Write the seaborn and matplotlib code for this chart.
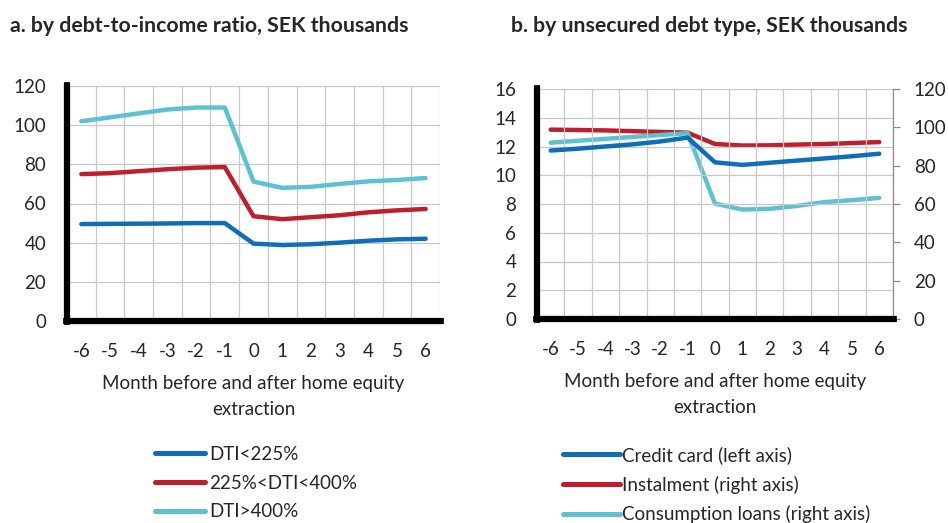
import numpy as np
import pandas as pd
import matplotlib
matplotlib.use("Agg")
import matplotlib.pyplot as plt
from matplotlib.ticker import FixedLocator, MultipleLocator
from matplotlib.lines import Line2D
import seaborn as sns

months = [-6, -5, -4, -3, -2, -1, 0, 1, 2, 3, 4, 5, 6]

# Panel a: by debt-to-income ratio
dti_low = [49.5, 49.6, 49.7, 49.8, 50.0, 50.0, 39.5, 38.8, 39.2, 40.0, 41.0, 41.7, 42.0]
dti_mid = [75.0, 75.5, 76.5, 77.5, 78.3, 78.6, 53.5, 52.0, 53.0, 54.0, 55.5, 56.5, 57.2]
dti_high = [102.0, 104.0, 106.0, 108.0, 109.0, 109.0, 71.2, 68.0, 68.5, 70.0, 71.3, 72.0, 73.0]
labels_a = ["DTI<225%", "225%<DTI<400%", "DTI>400%"]

# Panel b: by unsecured debt type
credit_card = [11.72, 11.85, 12.0, 12.15, 12.35, 12.62, 10.9, 10.72, 10.87, 11.02, 11.17, 11.32, 11.5]
instalment = [98.8, 98.6, 98.4, 98.0, 97.6, 97.2, 91.3, 90.5, 90.6, 91.0, 91.3, 91.8, 92.3]
consumption = [92.0, 93.0, 94.0, 95.0, 96.0, 96.9, 60.2, 57.1, 57.5, 59.0, 61.0, 62.0, 63.2]
labels_b = ["Credit card (left axis)", "Instalment (right axis)", "Consumption loans (right axis)"]

BLUE = "#0F6EB8"
RED = "#BE1E2D"
CYAN = "#5CC2D2"

sns.set_style("white")
plt.rcParams["font.family"] = ["Lato", "DejaVu Sans"]

FS = 13.5
FT = 15.3
fig = plt.figure(figsize=(9.48, 5.23), dpi=100)

W, H = 948, 523
def rect(l, t, r, b):
    return [l / W, 1 - b / H, (r - l) / W, (b - t) / H]

ax1 = fig.add_axes(rect(67, 86, 440, 321))
ax2 = fig.add_axes(rect(537, 89, 893, 319))

pos = np.arange(len(months))

def style_axis(ax, ymax, ystep):
    ax.set_xlim(-0.5, len(months) - 0.5)
    ax.set_ylim(0, ymax)
    ax.xaxis.set_major_locator(FixedLocator(pos))
    ax.set_xticklabels([str(m) for m in months])
    ax.xaxis.set_minor_locator(FixedLocator(np.arange(-0.5, len(months), 1.0)))
    ax.yaxis.set_major_locator(MultipleLocator(ystep))
    ax.grid(False)
    ax.grid(True, which="minor", axis="x", color="#C8C8C8", lw=0.9)
    ax.grid(True, which="major", axis="y", color="#C8C8C8", lw=0.9)
    ax.set_axisbelow(True)
    for s in ["top", "right"]:
        ax.spines[s].set_visible(False)
    for s in ["left", "bottom"]:
        ax.spines[s].set_color("black")
        ax.spines[s].set_linewidth(4.5)
        ax.spines[s].set_capstyle("projecting")
    ax.tick_params(axis="x", which="major", length=0, pad=16, labelsize=FS)
    ax.tick_params(axis="x", which="minor", length=4, width=5.5, direction="inout", color="black", bottom=True)
    ax.tick_params(axis="y", which="major", length=4, width=5.5, direction="inout", color="black",
                   pad=13, labelsize=FS, left=True)
    ax.set_xlabel("Month before and after home equity\nextraction", fontsize=FS, labelpad=11, linespacing=1.6)
    ax.set_ylabel("")

# Panel a
df_a = pd.DataFrame({
    "x": np.tile(pos, 3),
    "value": dti_low + dti_mid + dti_high,
    "series": np.repeat(labels_a, len(months)),
})
sns.lineplot(data=df_a, x="x", y="value", hue="series", hue_order=labels_a,
             palette=[BLUE, RED, CYAN], lw=3.2, ax=ax1, legend=False)
style_axis(ax1, 120, 20)

# Panel b
df_cc = pd.DataFrame({"x": pos, "value": credit_card})
sns.lineplot(data=df_cc, x="x", y="value", color=BLUE, lw=3.2, ax=ax2, legend=False)
style_axis(ax2, 16, 2)
ax2r = ax2.twinx()
df_b = pd.DataFrame({
    "x": np.tile(pos, 2),
    "value": instalment + consumption,
    "series": np.repeat(labels_b[1:], len(months)),
})
sns.lineplot(data=df_b, x="x", y="value", hue="series", hue_order=labels_b[1:],
             palette=[RED, CYAN], lw=3.2, ax=ax2r, legend=False)
ax2r.set_ylim(0, 120)
ax2r.yaxis.set_major_locator(MultipleLocator(20))
ax2r.grid(False)
ax2r.set_ylabel("")
for s in ["top", "left", "bottom"]:
    ax2r.spines[s].set_visible(False)
ax2r.spines["right"].set_color("#8C8C8C")
ax2r.spines["right"].set_linewidth(0.9)
ax2r.tick_params(axis="y", length=5, width=0.9, color="#8C8C8C", direction="out", pad=10, labelsize=FS)
ax2.set_zorder(ax2r.get_zorder() + 1)
ax2.patch.set_visible(False)

# Titles
fig.text(10 / W, 1 - 26 / H, "a. by debt-to-income ratio, SEK thousands", fontsize=FT,
         fontweight="bold", ha="left", va="center")
fig.text(511 / W, 1 - 26 / H, "b. by unsecured debt type, SEK thousands", fontsize=FT,
         fontweight="bold", ha="left", va="center")

# Legends
ha = [Line2D([], [], color=c, lw=3.6) for c in [BLUE, RED, CYAN]]
fig.legend(ha, labels_a, loc="upper left", bbox_to_anchor=(155 / W, 1 - 446 / H),
           frameon=False, fontsize=FS, handlelength=2.65, handletextpad=0.25,
           labelspacing=0.62, borderpad=0, borderaxespad=0)
fig.legend(ha, labels_b, loc="upper left", bbox_to_anchor=(563 / W, 1 - 446 / H),
           frameon=False, fontsize=FS, handlelength=3.05, handletextpad=0.1,
           labelspacing=0.62, borderpad=0, borderaxespad=0)

fig.savefig("out.png", dpi=100)
